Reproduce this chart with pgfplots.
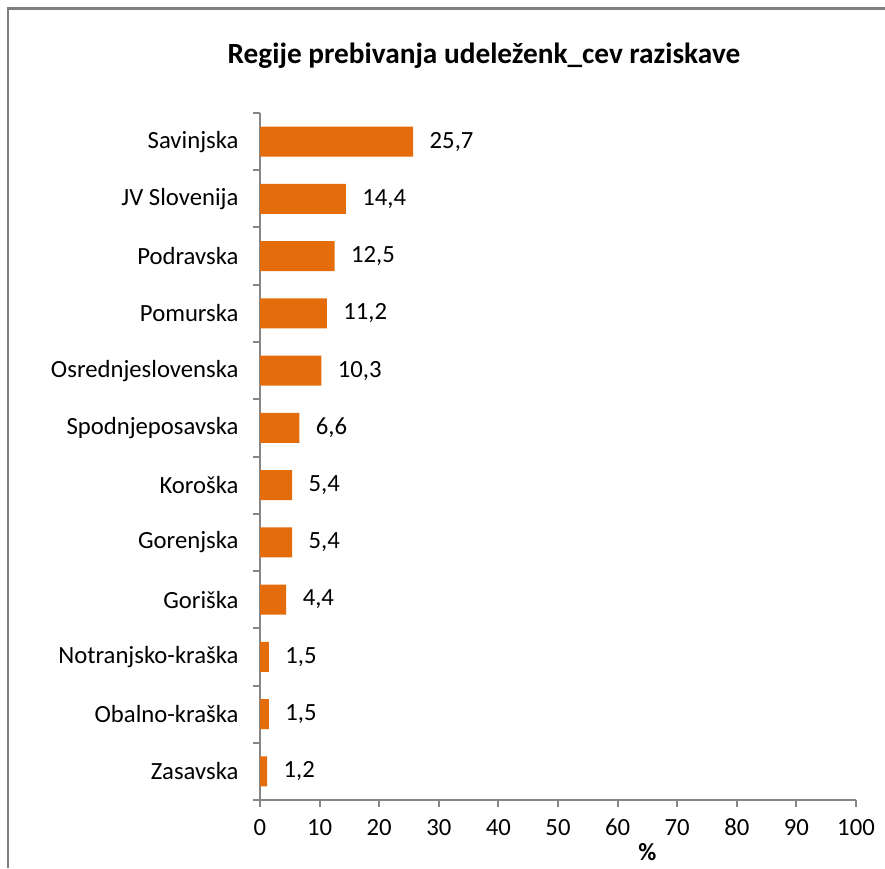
\documentclass[border=0pt]{standalone}
\usepackage{fontspec}
\setmainfont{Carlito}
\usepackage{pgfplots}
\pgfplotsset{compat=1.18}
\definecolor{barorange}{RGB}{228,108,10}
\definecolor{axgray}{RGB}{134,134,134}
\definecolor{framegray}{RGB}{128,128,128}
\begin{document}
\begin{tikzpicture}[x=1pt,y=1pt]
\useasboundingbox (0,0) rectangle (885,868);
\draw[framegray, line width=2.2pt] (8,0) -- (8,859.5) -- (885,859.5);
\node[font=\fontsize{29.3}{34}\selectfont\bfseries] at (484,812) {Regije prebivanja udeleženk\_cev raziskave};
\begin{axis}[
  at={(260pt,68pt)}, anchor=south west,
  scale only axis, width=596pt, height=687pt,
  xbar, bar width=30pt,
  xmin=0, xmax=100, xtick={0,10,...,100},
  ymin=-0.5, ymax=11.5,
  ytick={0,...,11},
  yticklabels={Zasavska,Obalno-kraška,Notranjsko-kraška,Goriška,Gorenjska,Koroška,Spodnjeposavska,Osrednjeslovenska,Pomurska,Podravska,JV Slovenija,Savinjska},
  minor ytick={-0.5,0.5,...,11.5},
  axis x line*=bottom, axis y line*=left,
  axis line style={axgray, line width=2pt, -},
  tick align=outside,
  major tick length=7pt, minor tick length=7pt,
  x tick style={axgray, line width=2pt},
  major y tick style={draw=none},
  minor y tick style={axgray, line width=2pt},
  tick label style={font=\fontsize{24.7}{29}\selectfont},
  /pgf/number format/assume math mode=true,
  yticklabel style={xshift=-11pt},
  xticklabel style={yshift=-12pt, text height=13pt, text depth=0pt},
  xlabel={\textbf{\%}},
  xlabel style={at={(axis description cs:0.65,0)}, anchor=north, yshift=-42pt, inner sep=1pt, font=\fontsize{24.7}{29}\selectfont},
  nodes near coords,
  nodes near coords style={font=\fontsize{24.7}{29}\selectfont, anchor=west, xshift=13pt, /pgf/number format/.cd, use comma, fixed, fixed zerofill, precision=1, assume math mode=true},
]
\addplot[fill=barorange, draw=none] coordinates {
  (1.2,0) (1.5,1) (1.5,2) (4.4,3) (5.4,4) (5.4,5)
  (6.6,6) (10.3,7) (11.2,8) (12.5,9) (14.4,10) (25.7,11)
};
\end{axis}
\end{tikzpicture}
\end{document}
